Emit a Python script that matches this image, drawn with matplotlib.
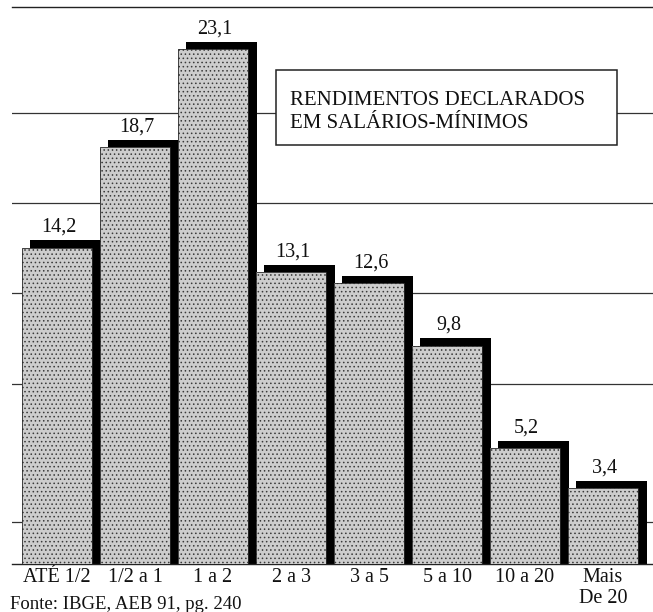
import numpy as np
import matplotlib.pyplot as plt
from matplotlib.patches import Rectangle

plt.rcParams['font.family'] = ['Liberation Serif', 'DejaVu Serif']
plt.rcParams['hatch.linewidth'] = 0.6

faixas = ['ATÉ 1/2', '1/2 a 1', '1 a 2', '2 a 3', '3 a 5', '5 a 10', '10 a 20', 'Mais\nDe 20']
percentual = [14.2, 18.7, 23.1, 13.1, 12.6, 9.8, 5.2, 3.4]
linhas_grade = [1.9, 8.1, 12.15, 16.2, 20.25]

fig = plt.figure(figsize=(6.53, 6.12), dpi=100)
ax = fig.add_axes([12 / 653, 48 / 612, 641 / 653, 557 / 612])

x = np.arange(len(faixas))
vals = np.array(percentual)

# horizontal reference lines, hidden behind the bars
for g in linhas_grade:
    ax.axhline(g, color='#333333', lw=0.9, zorder=1)

# black drop shadow, shifted right and up
ax.bar(x + 0.11, vals + 0.33, width=0.9, color='black', zorder=2)
# stippled bar body
ax.bar(x, vals, width=0.9, facecolor='#cdcdcd', edgecolor='#3a3a3a',
       hatch='....', linewidth=0, zorder=3)
ax.bar(x, vals, width=0.9, facecolor='none', edgecolor='#2a2a2a',
       linewidth=0.6, zorder=3.5)

for xi, v in zip(x, vals):
    ax.annotate(f'{v:.1f}'.replace('.', ','), (xi + 0.02, v + 0.33),
                xytext=(0, 6), textcoords='offset points',
                ha='center', va='baseline', fontsize=14.5, color='#111111')

ax.set_xlim(-0.577, 7.641)
ax.set_ylim(0, 25)
ax.set_xticks(x)
ax.set_xticklabels(faixas, fontsize=14.5, color='#111111', linespacing=1.15)
ax.set_yticks([])
ax.tick_params(axis='x', length=0, pad=3)
for s in ['left', 'right']:
    ax.spines[s].set_visible(False)
for s in ['top', 'bottom']:
    ax.spines[s].set_linewidth(1.0)
    ax.spines[s].set_color('#222222')

# title box
ax.add_patch(Rectangle((276 / 653, 467 / 612), 341 / 653, 75 / 612,
                       transform=fig.transFigure, facecolor='white',
                       edgecolor='#222222', lw=1.1, zorder=5))
ax.text(290 / 653, 507 / 612, 'RENDIMENTOS DECLARADOS', transform=fig.transFigure,
        fontsize=15, va='baseline', ha='left', color='#111111', zorder=6)
ax.text(290 / 653, 484 / 612, 'EM SALÁRIOS-MÍNIMOS', transform=fig.transFigure,
        fontsize=15, va='baseline', ha='left', color='#111111', zorder=6)

fig.text(10 / 653, 16 / 612, 'Fonte: IBGE, AEB 91, pg. 240', fontsize=13.5,
         va='top', ha='left', color='#111111')

fig.savefig('out.png', dpi=100)
